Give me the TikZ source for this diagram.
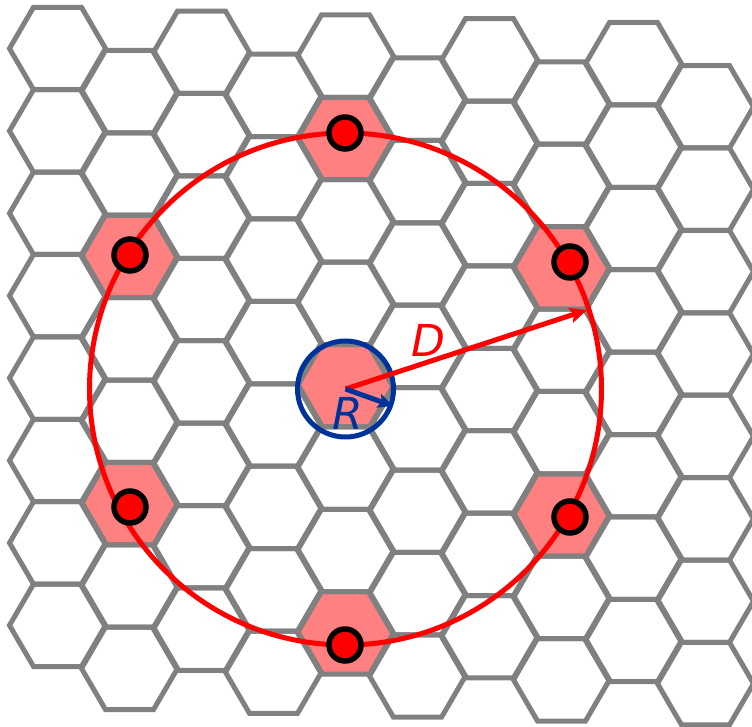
\documentclass[tikz,border=0pt]{standalone}
\usepackage{fontspec}
\setmainfont{DejaVu Sans}
\usetikzlibrary{arrows.meta}
\definecolor{hexgray}{RGB}{128,128,128}
\definecolor{cellpink}{RGB}{255,128,128}
\definecolor{rblue}{RGB}{0,51,153}
\newcommand\hexcellpath[3]{%
  \pgfmathsetmacro\hcx{57.5+72*#2}%
  \pgfmathsetmacro\hcy{48.5+41.2*mod(#2,2)+1.9*#2+82.4*#3}%
  \path[#1] (\hcx-48,\hcy) -- (\hcx-24,\hcy-41.2) -- (\hcx+24,\hcy-41.2) -- (\hcx+48,\hcy) -- (\hcx+24,\hcy+41.2) -- (\hcx-24,\hcy+41.2) -- cycle;}
\tikzset{
  hexcell/.style={draw=hexgray, line width=5pt, line join=miter},
  pinkcell/.style={fill=cellpink},
  station/.style={circle, fill=red, draw=black, line width=5.5pt, minimum size=32pt, inner sep=0pt},
  reusering/.style={draw=red, line width=5pt},
  cellring/.style={draw=rblue, line width=5pt},
  darrow/.style={draw=red, line width=5pt, -{Stealth[length=17pt,width=15pt,inset=3pt]}},
  rarrow/.style={draw=rblue, line width=5pt, -{Stealth[length=15pt,width=14pt,inset=3pt]}},
  biglabel/.style={inner sep=0pt, font=\fontsize{44}{44}\selectfont\itshape}
}
\begin{document}
\begin{tikzpicture}[x=1pt,y=-1pt]
\useasboundingbox (0,0) rectangle (752,727);
\fill[white] (0,0) rectangle (752,727);
% highlighted cells
\foreach \k/\j in {4/4,4/1,4/7,1/2,1/5,7/2,7/5}{\hexcellpath{pinkcell}{\k}{\j}}
% grid
\foreach \k in {0,...,9}{
  \foreach \j in {0,...,7}{\hexcellpath{hexcell}{\k}{\j}}}
% reuse circle
\coordinate (c) at (345.5,389);
\draw[reusering] (c) circle[radius=256];
% co-channel stations
\node[station] (s1) at (345,133) {};
\node[station] (s2) at (570,262) {};
\node[station] (s3) at (570,517) {};
\node[station] (s4) at (345,645) {};
\node[station] (s5) at (130,507) {};
\node[station] (s6) at (130,255) {};
% cell circle
\draw[cellring] (c) circle[radius=48];
% arrows
\coordinate (dtip) at (587,310);
\coordinate (rtip) at (393,406);
\draw[darrow] (c) -- (dtip);
\draw[rarrow] (c) -- (rtip);
\node[biglabel, text=red] (dl) at (428,340) {D};
\node[biglabel, text=rblue] (rl) at (347.5,413) {R};
\end{tikzpicture}
\end{document}
